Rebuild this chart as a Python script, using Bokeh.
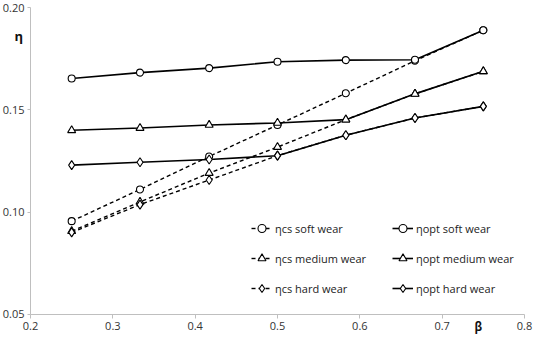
from bokeh.plotting import figure
from bokeh.models import (FixedTicker, NumeralTickFormatter, Legend, LegendItem,
                          Label, Range1d, LinearAxis, CustomJSTickFormatter)
from bokeh.embed import file_html
from bokeh.resources import INLINE

# ---- data ----
beta = [0.25, 0.333, 0.417, 0.5, 0.583, 0.667, 0.75]
eta_cs_soft = [0.0956, 0.1111, 0.1272, 0.1426, 0.1581, 0.1740, 0.1889]
eta_opt_soft = [0.1653, 0.1682, 0.1704, 0.1735, 0.1743, 0.1745, 0.1889]
eta_cs_medium = [0.0907, 0.1050, 0.1191, 0.1318, 0.1452, 0.1578, 0.1688]
eta_opt_medium = [0.1400, 0.1411, 0.1426, 0.1436, 0.1452, 0.1578, 0.1688]
eta_cs_hard = [0.0901, 0.1037, 0.1157, 0.1276, 0.1376, 0.1460, 0.1517]
eta_opt_hard = [0.1230, 0.1244, 0.1257, 0.1276, 0.1376, 0.1460, 0.1517]

x_ticks = [0.2, 0.3, 0.4, 0.5, 0.6, 0.7, 0.8]
y_ticks = [0.05, 0.10, 0.15, 0.20]

labels_cs = ["\u03b7cs soft wear", "\u03b7cs medium wear", "\u03b7cs hard wear"]
labels_opt = ["\u03b7opt soft wear", "\u03b7opt medium wear", "\u03b7opt hard wear"]
x_title = "\u03b2"
y_title = "\u03b7"

FONT = "Open Sans"
TXT = "#333333"
AX = "#bfbfbf"

p = figure(width=534, height=336, output_backend="svg", toolbar_location=None,
           x_range=Range1d(0.16356, 0.81215), y_range=Range1d(0.03925, 0.20342),
           min_border_left=0, min_border_right=0, min_border_top=0,
           min_border_bottom=0)
p.outline_line_color = None
p.xgrid.visible = False
p.ygrid.visible = False
p.background_fill_color = "white"

for ax in (p.xaxis[0], p.yaxis[0]):
    ax.axis_line_color = AX
    ax.major_tick_line_color = AX
    ax.minor_tick_line_color = None
    ax.major_tick_in = 0
    ax.major_label_text_font = FONT
    ax.major_label_text_font_size = "11px"
    ax.major_label_text_color = TXT

p.xaxis[0].major_tick_out = 4
p.yaxis[0].major_tick_out = 3
p.xaxis[0].major_label_standoff = 4
p.yaxis[0].major_label_standoff = 3
p.xaxis[0].ticker = FixedTicker(ticks=x_ticks)
p.yaxis[0].ticker = FixedTicker(ticks=y_ticks)
p.xaxis[0].formatter = NumeralTickFormatter(format="0.0")
p.yaxis[0].formatter = NumeralTickFormatter(format="0.00")
p.xaxis[0].fixed_location = 0.05
p.yaxis[0].fixed_location = 0.2
p.xaxis[0].bounds = (0.2, 0.8)
p.yaxis[0].bounds = (0.05, 0.20)

# x title "β" sits on the tick-label row, drawn by a second (tick-less) axis
beta_axis = LinearAxis(ticker=FixedTicker(ticks=[0.744]),
                       formatter=CustomJSTickFormatter(code="return '%s'" % x_title),
                       fixed_location=0.05, axis_line_color=None,
                       major_tick_line_color=None, minor_tick_line_color=None,
                       major_tick_in=0, major_tick_out=3, major_label_standoff=2,
                       major_label_text_font=FONT, major_label_text_font_size="11.5px",
                       major_label_text_font_style="bold",
                       major_label_text_color="#111111")
p.add_layout(beta_axis, "below")

DASH = "4 3"
series = [
    (eta_cs_soft, "dashed", "circle", 7),
    (eta_cs_medium, "dashed", "triangle", 8),
    (eta_cs_hard, "dashed", "diamond", 9),
    (eta_opt_soft, "solid", "circle", 7),
    (eta_opt_medium, "solid", "triangle", 8),
    (eta_opt_hard, "solid", "diamond", 9),
]

renderers = []
for ys, dash, marker, size in series:
    ld = DASH if dash == "dashed" else "solid"
    lw = 1.4 if dash == "dashed" else 1.6
    l = p.line(beta, ys, line_color="black", line_width=lw, line_dash=ld)
    s = p.scatter(beta, ys, marker=marker, size=size, fill_color="white",
                  line_color="black", line_width=1.1)
    renderers.append((l, s))

def make_legend(items, x, y):
    lg = Legend(items=items, location=(x, y), orientation="vertical",
                padding=0, margin=0, spacing=10, glyph_width=21, glyph_height=20,
                label_height=20, label_standoff=3,
                label_text_font=FONT, label_text_font_size="11px",
                label_text_color="#222222",
                border_line_alpha=0, background_fill_alpha=0)
    return lg

items_cs = [LegendItem(label=labels_cs[i], renderers=list(renderers[i])) for i in range(3)]
items_opt = [LegendItem(label=labels_opt[i], renderers=list(renderers[3 + i])) for i in range(3)]

p.add_layout(make_legend(items_cs, 251, 38), "center")
p.add_layout(make_legend(items_opt, 392, 38), "center")

p.add_layout(Label(x=0.1857, y=0.1859, text=y_title, text_font=FONT,
                   text_font_size="13px", text_font_style="bold",
                   text_color="#111111", text_align="center",
                   text_baseline="middle"))

open("out.html", "w").write(file_html(p, INLINE))
